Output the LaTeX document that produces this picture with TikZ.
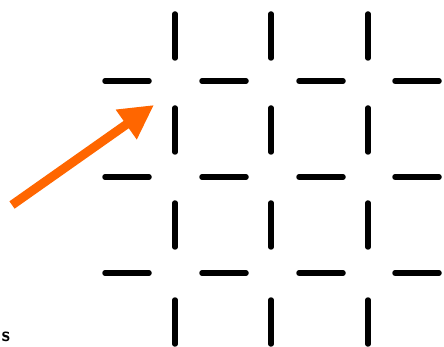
\documentclass[tikz,border=0pt]{standalone}
\usepackage{tikz}
\usetikzlibrary{arrows.meta}

\definecolor{arroworange}{RGB}{255,102,0}
\tikzset{
    gridbar/.style={line width=5.5pt, line cap=round},
    pointer/.style={line width=9pt, draw=arroworange, -{Triangle[length=34pt, width=34pt]}}
}

\begin{document}
\begin{tikzpicture}[x=1pt, y=-1pt]
    \def\half{22}

    % --- Canvas, same size as the reference ---
    \useasboundingbox (0,0) rectangle (444,347);

    % --- Horizontal bars, three rows ---
    \foreach \y in {81,177,273}
        \foreach \x in {127,224,321,417}
            \draw[gridbar] (\x-\half,\y) -- (\x+\half,\y);

    % --- Vertical bars, three columns ---
    \foreach \x in {175,271,368}
        \foreach \y in {36,130,225,322}
            \draw[gridbar] (\x,\y-\half) -- (\x,\y+\half);

    % --- Orange pointer into the top-left gap ---
    \coordinate (tail) at (12,205);
    \coordinate (tip) at (154,105);
    \draw[pointer] (tail) -- (tip);

    % --- Small label at the bottom left ---
    \node[font=\fontsize{20}{20}\sffamily\bfseries, anchor=base west, inner sep=0pt] (label) at (1.5,341) {s};
\end{tikzpicture}
\end{document}
